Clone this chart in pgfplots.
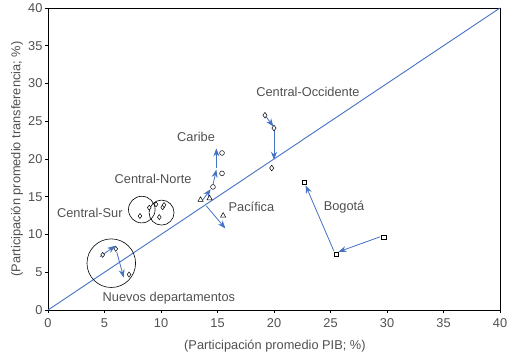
\documentclass[border=0pt]{standalone}
\usepackage{pgfplots}
\pgfplotsset{compat=1.18}
\usepackage{fontspec}
\setmainfont{Liberation Sans}
\usetikzlibrary{arrows.meta}
\definecolor{lineblue}{RGB}{68,114,196}
\definecolor{txtgray}{RGB}{80,80,80}
\begin{document}
\begin{tikzpicture}[font=\fontsize{12.8}{15}\selectfont]
\begin{axis}[
  name=ax,
  scale only axis,
  width=452pt, height=302pt,
  xmin=0, xmax=40, ymin=0, ymax=40,
  xtick={0,5,...,40}, ytick={0,5,...,40},
  tick align=outside,
  xtick pos=bottom, ytick pos=left,
  major tick length=3pt,
  tick style={black, line width=0.6pt},
  axis line style={black, line width=0.8pt},
  ticklabel style={text=txtgray},
  xticklabel style={yshift=-2pt},
  yticklabel style={xshift=1pt},
  /pgf/number format/assume math mode=true,
  xlabel={(Participación promedio PIB; \%)},
  ylabel={(Participación promedio transferencia; \%)},
  label style={text=txtgray},
  xlabel style={at={(axis description cs:0.502,-0.119)}, anchor=center},
  ylabel style={at={(axis description cs:-0.0686,0.5)}, anchor=center},
  clip=false,
  every axis plot/.append style={black, line width=0.5pt},
]
% diagonal
\addplot[lineblue, line width=0.9pt, no marks] coordinates {(0,0) (40,40)};
% Central-Occidente
\addplot[only marks, mark=diamond*, mark size=2.8pt, mark options={fill=white, draw=black}] coordinates {(19.2,25.8) (20.0,24.1) (19.8,18.8)};
% Caribe
\addplot[only marks, mark=o, mark size=2.4pt, mark options={draw=black}] coordinates {(15.4,20.8) (15.4,18.1) (14.6,16.3)};
% Pacifica
\addplot[only marks, mark=triangle*, mark size=3pt, mark options={fill=white, draw=black}] coordinates {(13.5,14.6) (14.3,14.8) (15.5,12.5)};
% Central-Norte y Central-Sur
\addplot[only marks, mark=diamond*, mark size=2.5pt, mark options={fill=white, draw=black}] coordinates {(8.96,13.55) (9.56,14.0) (10.15,13.6) (10.27,13.9) (8.14,12.45) (9.85,12.3)};
% Nuevos departamentos
\addplot[only marks, mark=diamond*, mark size=2.5pt, mark options={fill=white, draw=black}] coordinates {(4.84,7.3) (6.0,8.1) (7.17,4.7)};
% Bogota
\addplot[only marks, mark=square*, mark size=2.2pt, mark options={fill=white, draw=black}] coordinates {(22.7,16.9) (25.5,7.4) (29.7,9.6)};

% arrows
\begin{scope}[lineblue, line width=0.8pt, -{Stealth[length=8pt,width=6pt]}]
\draw (axis cs:19.3,25.6) -- (axis cs:19.95,24.3);
\draw (axis cs:20.0,23.8) -- (axis cs:20.0,19.9);
\draw (axis cs:13.6,14.4) -- (axis cs:14.4,16.0);
\draw (axis cs:14.6,16.6) -- (axis cs:14.9,18.6);
\draw (axis cs:14.9,18.8) -- (axis cs:14.9,21.4);
\draw (axis cs:14.0,13.8) -- (axis cs:15.7,10.8);
\draw (axis cs:4.6,7.06) -- (axis cs:5.95,8.5);
\draw (axis cs:6.08,7.7) -- (axis cs:6.7,4.3);
\draw (axis cs:29.4,9.7) -- (axis cs:25.7,7.7);
\draw (axis cs:25.3,7.8) -- (axis cs:22.8,16.5);
\end{scope}

% circles
\draw[black, line width=0.6pt] (axis cs:8.3,13.3) circle[radius=13.3pt];
\draw[black, line width=0.6pt] (axis cs:10.05,12.9) circle[radius=12.5pt];
\draw[black, line width=0.6pt] (axis cs:5.6,6.2) circle[radius=24.3pt];

% labels
\begin{scope}[text=txtgray]
\node at (axis cs:23.0,28.9) {Central-Occidente};
\node at (axis cs:13.1,22.9) {Caribe};
\node at (axis cs:9.3,17.3) {Central-Norte};
\node at (axis cs:3.7,12.9) {Central-Sur};
\node at (axis cs:18.0,13.7) {Pacífica};
\node at (axis cs:26.2,13.6) {Bogotá};
\node at (axis cs:10.7,1.5) {Nuevos departamentos};
\end{scope}
\end{axis}
\pgfresetboundingbox
\path ([shift={(-48pt,-47pt)}]ax.south west) rectangle ([shift={(17pt,8pt)}]ax.north east);
\end{tikzpicture}
\end{document}
